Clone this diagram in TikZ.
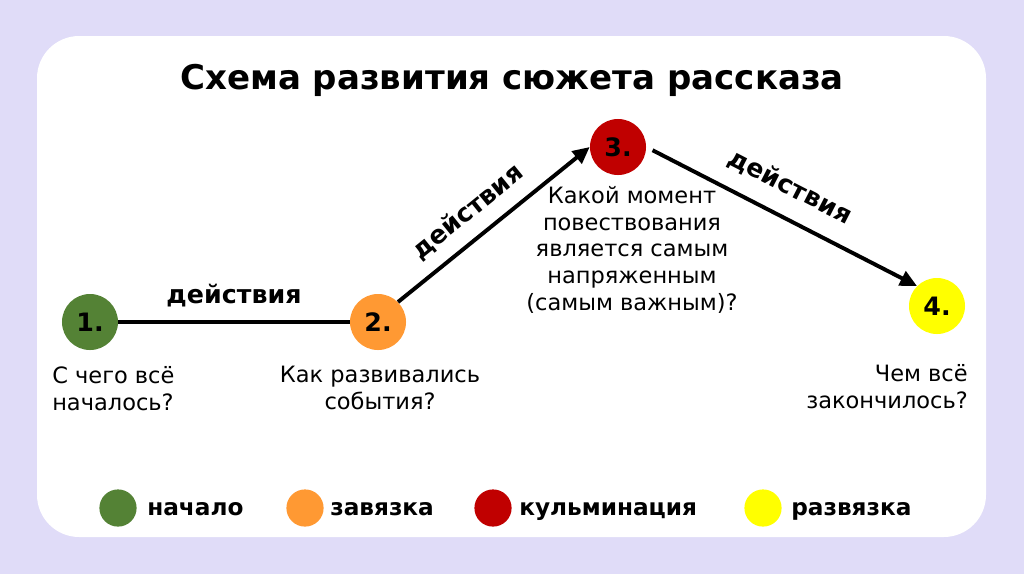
\documentclass[tikz,border=0pt]{standalone}
\usepackage{fontspec}
\setmainfont{DejaVu Sans}
\usetikzlibrary{arrows.meta}

\definecolor{lavender}{RGB}{224,220,248}
\definecolor{startgreen}{RGB}{84,130,53}
\definecolor{tieorange}{RGB}{255,153,51}
\definecolor{peakred}{RGB}{192,0,0}
\definecolor{endyellow}{RGB}{255,255,0}

\tikzset{
  stage/.style={circle,minimum size=1.4cm,inner sep=0pt,font=\fontsize{18}{20}\selectfont\bfseries},
  legenddot/.style={circle,minimum size=0.93cm,inner sep=0pt},
  legendtext/.style={anchor=base west,inner sep=0pt,font=\fontsize{16.5}{20}\selectfont\bfseries},
  question/.style={inner sep=0pt,font=\fontsize{16}{19}\selectfont},
  actlabel/.style={inner sep=0pt,font=\fontsize{18}{20}\selectfont\bfseries},
  plot line/.style={line width=2.8pt,black},
  plot arrow/.style={plot line,-{Triangle[length=12pt,width=11pt]}}
}

\begin{document}
\begin{tikzpicture}[x=0.025cm,y=-0.025cm]
  \useasboundingbox (0,0) rectangle (1024,574);
  \fill [lavender] (0,0) rectangle (1024,574);
  \fill [white,rounded corners=30] (37,36) rectangle (986,537);

  \node [font=\fontsize{24.2}{28}\selectfont\bfseries] (title) at (512,80) {Схема развития сюжета рассказа};

  % points of the plot
  \node [stage,fill=startgreen] (s1) at (90,322) {1.};
  \node [stage,fill=tieorange] (s2) at (378,322) {2.};
  \node [stage,fill=peakred] (s3) at (618,147) {3.};
  \node [stage,fill=endyellow] (s4) at (937,306) {4.};

  \draw [plot line] (s1) -- node[actlabel,above=9pt] (act1) {действия} (s2);
  \draw [plot arrow] (s2.north east) -- node[actlabel,sloped,above=9pt,pos=0.45] (act2) {действия} (s3.west);
  \draw [plot arrow,shorten <=5pt] (s3.east) -- node[actlabel,sloped,above=12pt,pos=0.48] (act3) {действия} (s4.north west);

  % questions
  \node [question,anchor=north west,align=left] (q1) at (52,366) {С чего всё\\началось?};
  \node [question,anchor=north,align=center] (q2) at (380,366) {Как развивались\\события?};
  \node [question,anchor=north,align=center] (q3) at (632,186) {Какой момент\\повествования\\является самым\\напряженным\\(самым важным)?};
  \node [question,anchor=north east,align=right] (q4) at (968,364) {Чем всё\\закончилось?};

  % legend
  \node [legenddot,fill=startgreen] (d1) at (118,508) {};
  \node [legendtext] (l1) at (147,515) {начало};
  \node [legenddot,fill=tieorange] (d2) at (305,508) {};
  \node [legendtext] (l2) at (330,515) {завязка};
  \node [legenddot,fill=peakred] (d3) at (493,508) {};
  \node [legendtext] (l3) at (519,515) {кульминация};
  \node [legenddot,fill=endyellow] (d4) at (763,508) {};
  \node [legendtext] (l4) at (791,515) {развязка};
\end{tikzpicture}
\end{document}
